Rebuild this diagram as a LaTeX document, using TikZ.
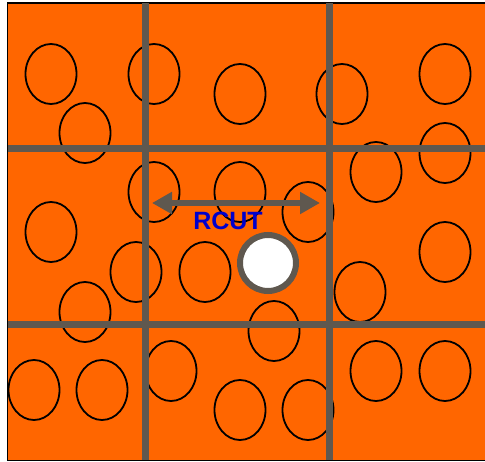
\documentclass[tikz,border=0pt]{standalone}
\usepackage{fontspec}
\setsansfont{Liberation Sans}
\usepackage{xcolor}
\usetikzlibrary{arrows.meta, shapes.geometric}

\definecolor{cellorange}{RGB}{255,102,0}
\definecolor{gridgray}{RGB}{95,88,79}
\definecolor{rcutblue}{RGB}{0,0,204}

\tikzset{
  gridline/.style={line width=6.5pt, gridgray},
  atom/.style={line width=1.8pt, black},
}

\begin{document}
\begin{tikzpicture}[x=1pt, y=-1pt]
        \useasboundingbox (0,0) rectangle (485,462);
        \clip (0,0) rectangle (485,462);

        % box of cells
        \draw[fill=cellorange, line width=1.5pt] (7.5,3) rectangle (495,460.5);

        % particles
        \foreach \x/\y in {51/74, 154/74, 240/94, 342/94, 445/74, 85/133, 376/172, 445/153,
                           154/192, 240/192, 308/212, 51/232, 445/252, 136/272, 205/272,
                           360/292, 85/312, 274/331,
                           34/390, 102/390, 171/371, 240/410, 308/410, 376/371, 445/371} {
          \draw[atom] (\x,\y) ellipse (25.5pt and 30pt);
        }

        % cell grid
        \foreach \gx in {145.5, 329.5} {
          \draw[gridline] (\gx,3) -- (\gx,460);
        }
        \foreach \gy in {148.5, 324.5} {
          \draw[gridline] (8,\gy) -- (490,\gy);
        }

        % cutoff radius
        \coordinate (rcutL) at (152,203);
        \coordinate (rcutR) at (320,203);
        \draw[gridline, {Triangle[length=20pt, width=21pt]}-{Triangle[length=20pt, width=21pt]}] (rcutL) -- (rcutR);
        \node[font=\sffamily\bfseries\fontsize{25}{30}\selectfont, text=rcutblue] (rcut) at (228,221) {RCUT};

        \node[circle, draw=gridgray, line width=6pt, fill=white, minimum size=56pt, inner sep=0pt] (hole) at (268,263) {};
      \end{tikzpicture}
\end{document}
